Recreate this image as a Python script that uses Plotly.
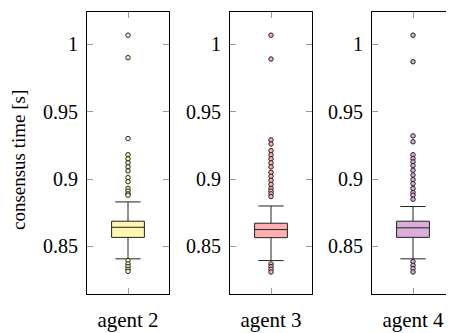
import plotly.graph_objects as go

agents = ["agent 2", "agent 3", "agent 4"]
colors = ["#FFF7B0", "#FFAFAF", "#DCADDC"]

# precomputed box stats per agent
q1 = [0.8567, 0.8565, 0.8567]
median = [0.8642, 0.8625, 0.8638]
q3 = [0.8687, 0.8672, 0.8687]
lower_fence = [0.8408, 0.8395, 0.8408]
upper_fence = [0.8830, 0.8800, 0.8796]

outliers = [
    [1.0067, 0.9900, 0.9300, 0.9180, 0.9150, 0.9120, 0.9090, 0.9060, 0.9010,
     0.8980, 0.8930, 0.8910, 0.8890, 0.8880,
     0.8395, 0.8370, 0.8350, 0.8330, 0.8315],
    [1.0067, 0.9890, 0.9290, 0.9260, 0.9210, 0.9180, 0.9150, 0.9120, 0.9090,
     0.9050, 0.9020, 0.8990, 0.8960, 0.8930, 0.8910, 0.8890, 0.8870,
     0.8370, 0.8350, 0.8330, 0.8310],
    [1.0067, 0.9870, 0.9320, 0.9276, 0.9180, 0.9152, 0.9127, 0.9100, 0.9065,
     0.9030, 0.8995, 0.8966, 0.8930, 0.8900, 0.8880, 0.8850,
     0.8387, 0.8360, 0.8335, 0.8310],
]

yticks = [0.85, 0.9, 0.95, 1.0]
yticktext = ["0.85", "0.9", "0.95", "1"]

# page body adds an 8px offset, so positions are shifted up/left by 8
W, H = 454, 333
domains = [[79 / W, 161 / W], [222 / W, 304 / W], [364 / W, 446 / W]]

font = dict(family="Liberation Serif, DejaVu Serif, serif", size=20, color="black")
xfont = dict(font, size=21)

fig = go.Figure()

for i, name in enumerate(agents):
    xa = "x" if i == 0 else f"x{i + 1}"
    ya = "y" if i == 0 else f"y{i + 1}"
    fig.add_trace(go.Box(
        x=[0], q1=[q1[i]], median=[median[i]], q3=[q3[i]],
        lowerfence=[lower_fence[i]], upperfence=[upper_fence[i]],
        width=0.8, whiskerwidth=0.77, boxpoints=False,
        fillcolor=colors[i], line=dict(color="#222", width=1),
        xaxis=xa, yaxis=ya, showlegend=False, hoverinfo="skip",
    ))
    fig.add_trace(go.Scatter(
        x=[0] * len(outliers[i]), y=outliers[i], mode="markers",
        marker=dict(size=4.5, color=colors[i], line=dict(color="#222", width=1)),
        xaxis=xa, yaxis=ya, showlegend=False, hoverinfo="skip",
    ))

    sfx = "" if i == 0 else str(i + 1)
    fig.layout["xaxis" + sfx] = dict(
        domain=domains[i], range=[-1, 1], anchor=ya,
        tickvals=[0], ticktext=[name], ticks="inside", ticklen=6,
        tickcolor="#999", showline=True, linecolor="black", linewidth=1,
        mirror="ticks", showgrid=False, zeroline=False, ticklabelstandoff=7,
        tickfont=xfont, fixedrange=True,
    )
    fig.layout["yaxis" + sfx] = dict(
        domain=[0, 1], range=[0.8147, 1.0239], anchor=xa,
        tickvals=yticks, ticktext=yticktext, ticks="inside", ticklen=6,
        tickcolor="#999", showline=True, linecolor="black", linewidth=1,
        mirror="ticks", showgrid=False, zeroline=False, ticklabelstandoff=4,
        tickfont=font, fixedrange=True,
    )

fig.add_annotation(
    text="consensus time [s]", xref="paper", yref="paper",
    x=10 / W, y=0.475, xanchor="center", yanchor="middle",
    textangle=-90, showarrow=False, font=dict(font, size=19),
)

fig.update_layout(
    width=W, height=H,
    margin=dict(l=0, r=0, t=4, b=47),
    plot_bgcolor="white", paper_bgcolor="white",
    font=font,
)

fig.write_html("out.html")
